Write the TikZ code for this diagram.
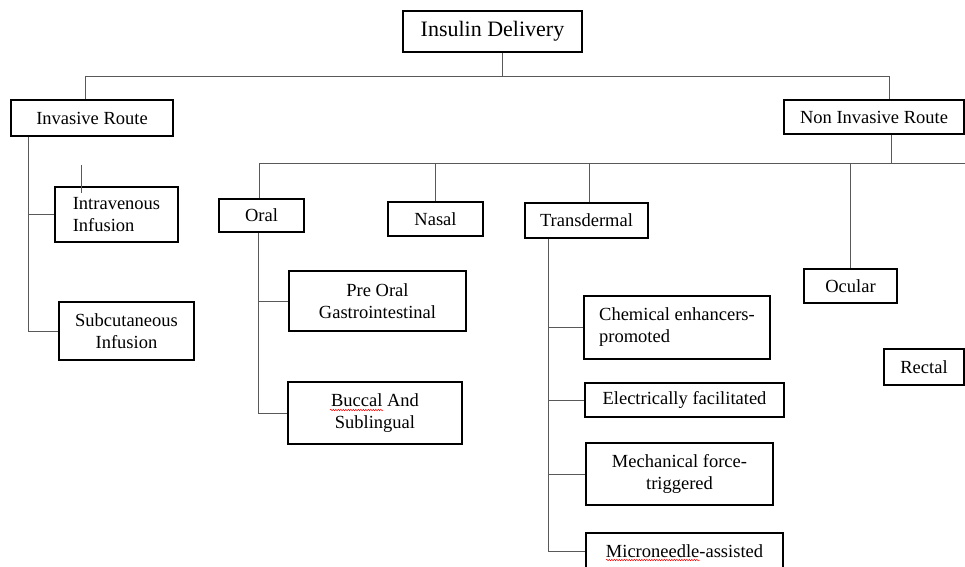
\documentclass[tikz,border=0pt]{standalone}
\usepackage{fontspec}
\setmainfont{Liberation Serif}
\usetikzlibrary{calc,decorations.pathmorphing}

\begin{document}
\begin{tikzpicture}[x=1pt,y=-1pt,
	box/.style={draw,line width=1.2pt,inner sep=0pt,font=\fontsize{18.5}{22}\selectfont},
	link/.style={draw=black!65,line width=1pt},
	typo/.style={red,line width=0.5pt,decorate,decoration={snake,amplitude=0.7pt,segment length=2.5pt}}]
	\useasboundingbox (0,0) rectangle (965,566);
	\clip (0,0) rectangle (965,566);
	% top level
	\node[box,minimum width=179pt,minimum height=41pt,font=\fontsize{22}{26}\selectfont] (title) at (492.5,31.5) {Insulin Delivery};
	\node[box,minimum width=162pt,minimum height=36pt] (inv) at (92,118) {Invasive Route};
	\node[box,minimum width=180pt,minimum height=34pt] (noninv) at (874,117) {Non Invasive Route};
	% invasive
	\node[box,minimum width=123pt,minimum height=55pt,align=left] (intra) at (116.5,214.5) {Intravenous\\Infusion};
	\node[box,minimum width=135pt,minimum height=58pt,align=center] (subcut) at (126.5,331) {Subcutaneous\\Infusion};
	% non invasive
	\node[box,minimum width=85pt,minimum height=33pt] (oral) at (261.5,215.5) {Oral};
	\node[box,minimum width=95pt,minimum height=34pt] (nasal) at (435.5,219) {Nasal};
	\node[box,minimum width=123pt,minimum height=35pt] (trans) at (586.5,220.5) {Transdermal};
	\node[box,minimum width=93pt,minimum height=34pt] (ocular) at (850.5,286) {Ocular};
	\node[box,minimum width=80pt,minimum height=36pt] (rectal) at (924,367) {Rectal};
	% oral
	\node[box,minimum width=177pt,minimum height=60pt,align=center] (preoral) at (377.5,301) {Pre Oral\\Gastrointestinal};
	\node[box,minimum width=174pt,minimum height=62pt,align=center] (buccal) at (375,413) {Buccal And\\Sublingual};
	% transdermal
	\node[box,minimum width=186pt,minimum height=63pt,align=left] (chem) at (677,327.5) {Chemical enhancers-\\promoted};
	\node[box,minimum width=199pt,minimum height=34pt] (elec) at (684.5,400) {Electrically facilitated};
	\node[box,minimum width=187pt,minimum height=62pt,align=center] (mech) at (679.5,474) {Mechanical force-\\triggered};
	\node[box,minimum width=197pt,minimum height=36pt] (micro) at (684.5,551) {Microneedle-assisted};

	% connectors
	\coordinate (topbar) at (0,76);
	\coordinate (midbar) at (965,163);
	\coordinate (titlestem) at ([xshift=9.5pt]title.south);
	\coordinate (invtop) at ([xshift=-7pt]inv.north);
	\coordinate (nontop) at ([xshift=15pt]noninv.north);
	\coordinate (nonstem) at ([xshift=17pt]noninv.south);
	\coordinate (oraltop) at ([xshift=-2.5pt]oral.north);
	\coordinate (transtop) at ([xshift=2.5pt]trans.north);
	\draw[link] (titlestem) -- (titlestem |- topbar);
	\draw[link] (invtop) |- (topbar -| nontop) -- (nontop);
	\draw[link] (nonstem) -- (nonstem |- midbar);
	\draw[link] (oraltop) |- (midbar);
	\draw[link] (nasal.north) -- (nasal.north |- midbar);
	\draw[link] (transtop) -- (transtop |- midbar);
	\draw[link] (ocular.north) -- (ocular.north |- midbar);

	\coordinate (invspine) at ([xshift=18pt]inv.south west);
	\draw[link] (invspine) |- (subcut.west);
	\draw[link] (intra.west) -- (intra.west -| invspine);
	\draw[link] ([shift={(27pt,21pt)}]intra.north west) -- ++(0,28);

	\coordinate (oralspine) at ([xshift=-3pt]oral.south);
	\draw[link] (oralspine) |- (buccal.west);
	\draw[link] (preoral.west) -- (preoral.west -| oralspine);

	\coordinate (transspine) at ([xshift=24pt]trans.south west);
	\draw[link] (transspine) |- (micro.west);
	\draw[link] (chem.west) -- (chem.west -| transspine);
	\draw[link] (elec.west) -- (elec.west -| transspine);
	\draw[link] (mech.west) -- (mech.west -| transspine);

	% spelling marks
	\draw[typo] (330,410) -- (383,410);
	\draw[typo] (606,560) -- (700,560);
\end{tikzpicture}
\end{document}
